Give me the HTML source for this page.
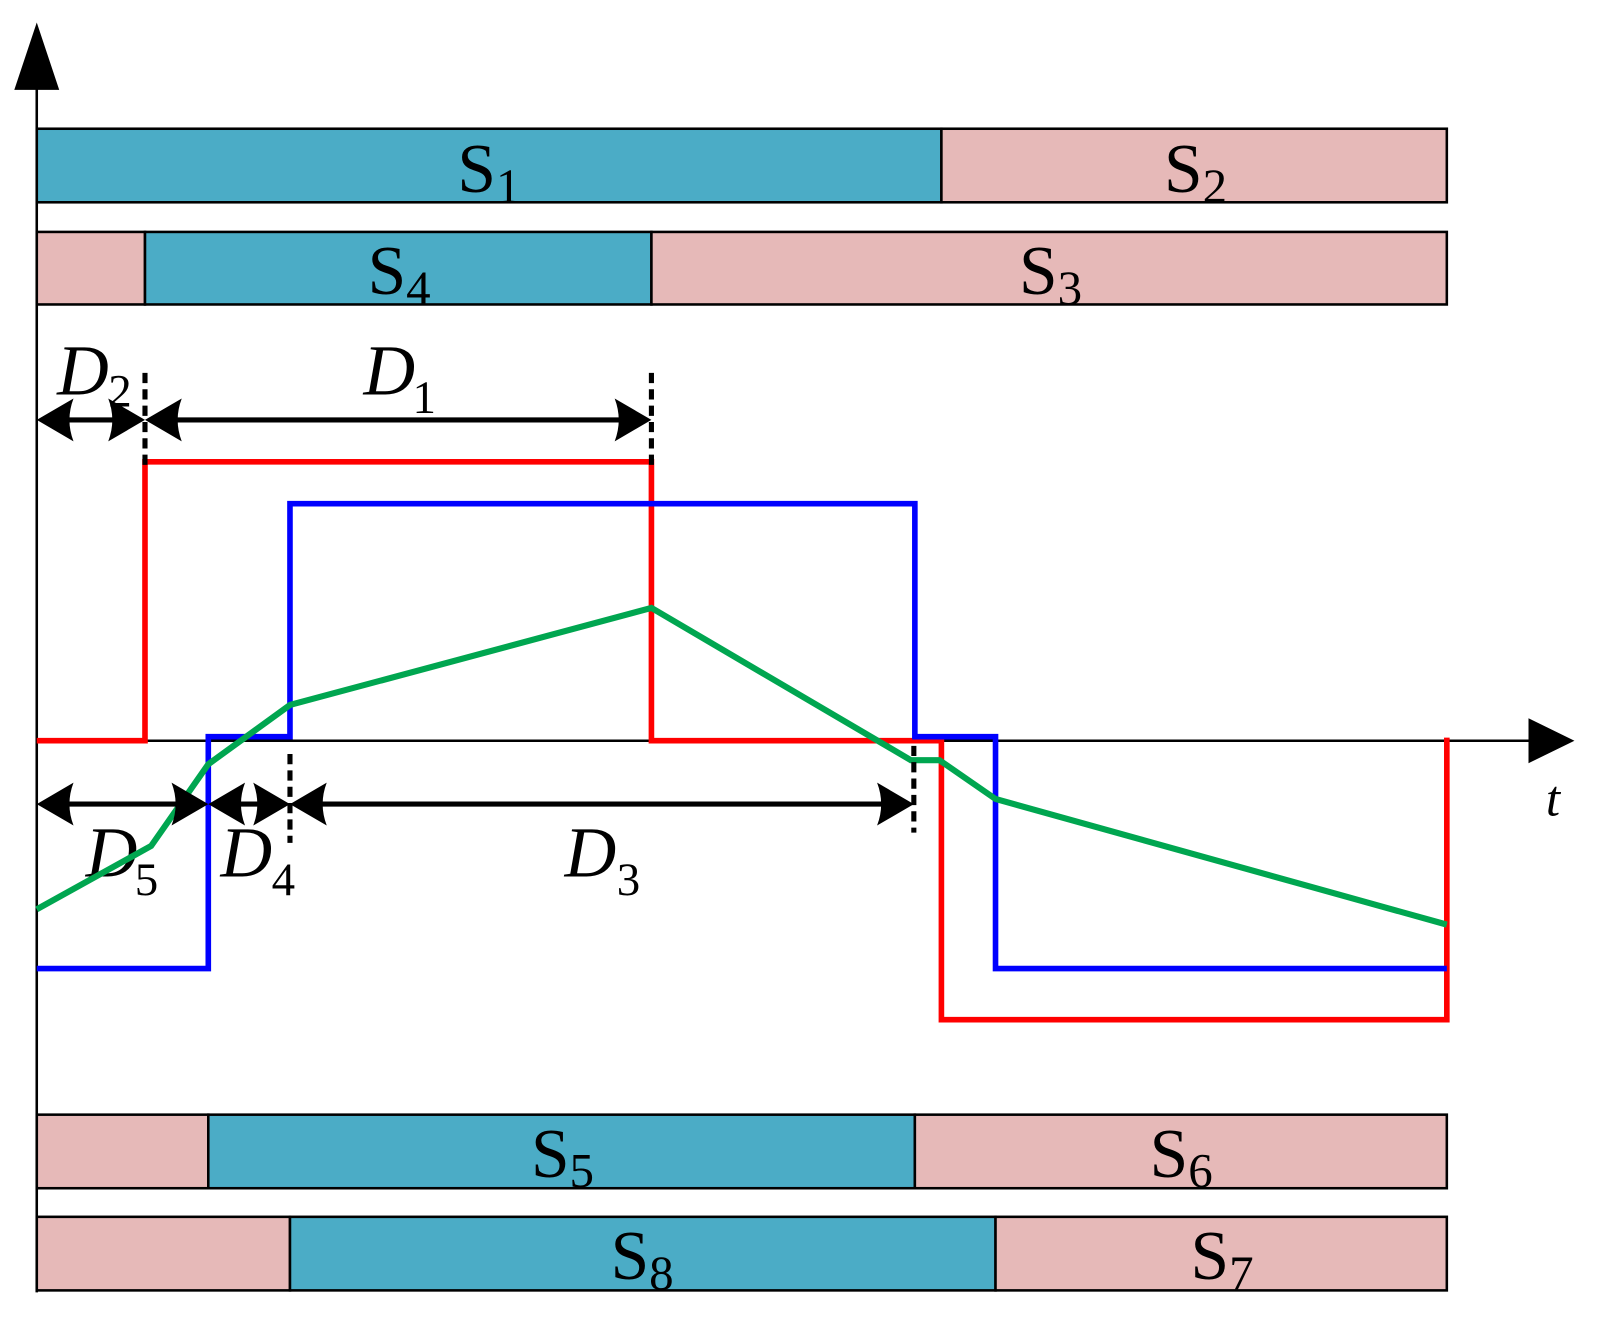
<!DOCTYPE html>
<html><head><meta charset="utf-8"><style>html,body{margin:0;padding:0;background:#fff}svg{display:block}</style></head>
<body>
<svg width="1601" height="1319" viewBox="0 0 1568 1291" preserveAspectRatio="none" xmlns="http://www.w3.org/2000/svg">
<g stroke="#000" stroke-width="2.5">
<rect x="36" y="126" width="886" height="72" fill="#4bacc6"/>
<rect x="922" y="126" width="495" height="72" fill="#e6b9b8"/>
<rect x="36" y="227" width="106" height="71" fill="#e6b9b8"/>
<rect x="142" y="227" width="496" height="71" fill="#4bacc6"/>
<rect x="638" y="227" width="779" height="71" fill="#e6b9b8"/>
<rect x="36" y="1091" width="168" height="72" fill="#e6b9b8"/>
<rect x="204" y="1091" width="692" height="72" fill="#4bacc6"/>
<rect x="896" y="1091" width="521" height="72" fill="#e6b9b8"/>
<rect x="36" y="1191" width="248" height="72" fill="#e6b9b8"/>
<rect x="284" y="1191" width="691" height="72" fill="#4bacc6"/>
<rect x="975" y="1191" width="442" height="72" fill="#e6b9b8"/>
<line x1="36" y1="80" x2="36" y2="1265"/>
<line x1="36" y1="725" x2="1505" y2="725"/>
</g>
<polygon points="36,22 14,88 58,88" fill="#000"/>
<polygon points="1542,725 1497,703 1497,747" fill="#000"/>
<g font-family="Liberation Serif, serif" font-size="68" fill="#000">
<text x="448" y="188" transform="scale(1,1)">S<tspan font-size="48" dy="10">1</tspan></text>
<text x="1140" y="188">S<tspan font-size="48" dy="10">2</tspan></text>
<text x="360" y="288">S<tspan font-size="48" dy="10">4</tspan></text>
<text x="998" y="288">S<tspan font-size="48" dy="10">3</tspan></text>
<text x="520" y="1152">S<tspan font-size="48" dy="10">5</tspan></text>
<text x="1126" y="1152">S<tspan font-size="48" dy="10">6</tspan></text>
<text x="598" y="1252">S<tspan font-size="48" dy="10">8</tspan></text>
<text x="1166" y="1252">S<tspan font-size="48" dy="10">7</tspan></text>
</g>
<g font-family="Liberation Serif, serif" fill="#000">
<text x="56" y="386" font-size="70" font-style="italic">D</text><text x="106" y="398" font-size="46">2</text>
<text x="356" y="386" font-size="70" font-style="italic">D</text><text x="404" y="404" font-size="46">1</text>
<text x="84" y="858" font-size="70" font-style="italic">D</text><text x="132" y="876" font-size="46">5</text>
<text x="216" y="858" font-size="70" font-style="italic">D</text><text x="266" y="876" font-size="46">4</text>
<text x="553" y="858" font-size="70" font-style="italic">D</text><text x="604" y="876" font-size="46">3</text>
<text x="1514" y="798" font-size="50" font-style="italic">t</text>
</g>
<g fill="none" stroke-width="5.5" stroke-linejoin="miter">
<polyline stroke="#ff0000" points="36,725 142,725 142,452 638,452 638,725 922,725 922,998 1417,998 1417,722"/>
<polyline stroke="#0000ff" points="36,948 204,948 204,721 284,721 284,493 896,493 896,721 975,721 975,948 1417,948"/>
<polyline stroke="#00a650" stroke-width="6" points="36,890 148,828 204,748 284,690 638,595 892,744 920,744 975,782 1417,905"/>
</g>
<g stroke="#000" stroke-width="5" stroke-dasharray="10,6">
<line x1="142" y1="365" x2="142" y2="455"/>
<line x1="638" y1="365" x2="638" y2="455"/>
<line x1="284" y1="738" x2="284" y2="825"/>
<line x1="895" y1="730" x2="895" y2="815"/>
</g>
<g stroke="#000" stroke-width="5">
<line x1="50" y1="411" x2="128" y2="411"/>
<line x1="156" y1="411" x2="624" y2="411"/>
<line x1="50" y1="787" x2="190" y2="787"/>
<line x1="218" y1="787" x2="270" y2="787"/>
<line x1="298" y1="787" x2="881" y2="787"/>
</g>
<g fill="#000">
<path d="M36,411 L72,390 Q64,411 72,432 Z"/>
<path d="M142,411 L106,390 Q114,411 106,432 Z"/>
<path d="M142,411 L178,390 Q170,411 178,432 Z"/>
<path d="M638,411 L602,390 Q610,411 602,432 Z"/>
<path d="M36,787 L72,766 Q64,787 72,808 Z"/>
<path d="M204,787 L168,766 Q176,787 168,808 Z"/>
<path d="M204,787 L240,766 Q232,787 240,808 Z"/>
<path d="M284,787 L248,766 Q256,787 248,808 Z"/>
<path d="M284,787 L320,766 Q312,787 320,808 Z"/>
<path d="M895,787 L859,766 Q867,787 859,808 Z"/>
</g>
</svg>
</body></html>
